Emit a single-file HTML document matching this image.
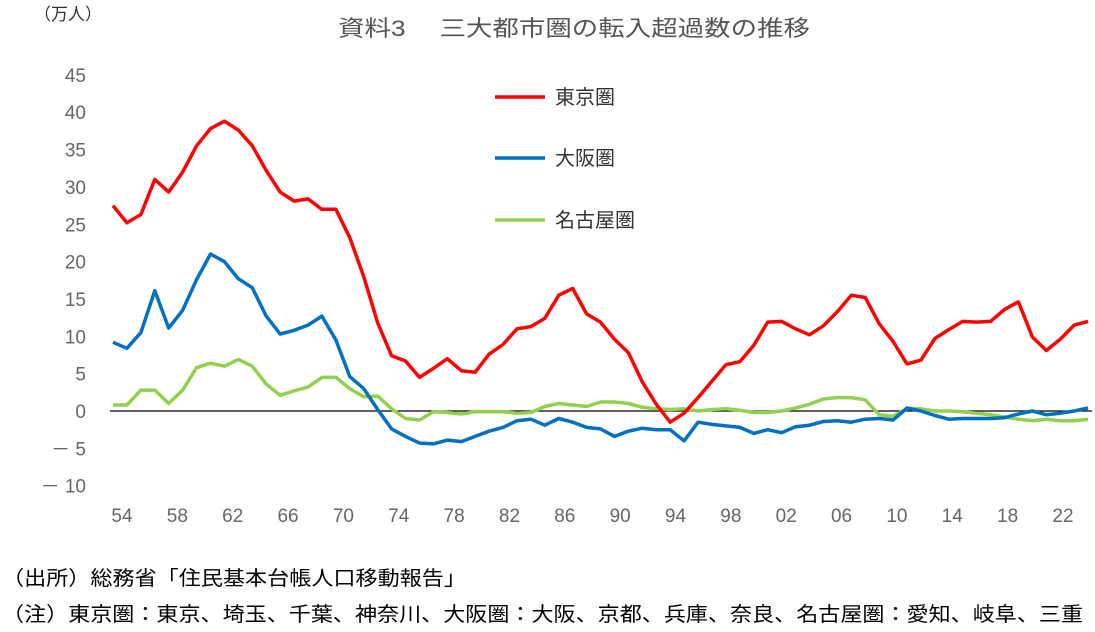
<!DOCTYPE html>
<html><head><meta charset="utf-8"><style>
body{margin:0;background:#fff;}
svg{display:block;font-family:"Liberation Sans","Noto Sans CJK JP",sans-serif;}
</style></head><body>
<svg id="s" width="1095" height="632" xmlns="http://www.w3.org/2000/svg">
<text x="34" y="20" font-size="17" fill="#333">（万人）</text>
<text x="338" y="36" font-size="22" fill="#555" textLength="472" lengthAdjust="spacingAndGlyphs">資料3　 三大都市圏の転入超過数の推移</text>
<g font-size="19" fill="#666" text-anchor="end" id="yl"></g>
<g font-size="19" fill="#666" text-anchor="middle" id="xl"></g>
<line x1="110" y1="411" x2="1092" y2="411" stroke="#000" stroke-width="1.3"/>
<g id="ln" fill="none" stroke-width="3.5" stroke-linejoin="round"></g>
<line x1="495" y1="97" x2="545" y2="97" stroke="#ff0000" stroke-width="3.5"/>
<text x="555" y="104" font-size="20" fill="#333">東京圏</text>
<line x1="495" y1="158" x2="545" y2="158" stroke="#0070c0" stroke-width="3.5"/>
<text x="555" y="165" font-size="20" fill="#333">大阪圏</text>
<line x1="495" y1="220" x2="545" y2="220" stroke="#92d050" stroke-width="3.5"/>
<text x="555" y="227" font-size="20" fill="#333">名古屋圏</text>
<text x="2" y="585" font-size="20" fill="#000" textLength="464" lengthAdjust="spacingAndGlyphs">（出所）総務省「住民基本台帳人口移動報告」</text>
<text x="2" y="621" font-size="20" fill="#000" textLength="1081" lengthAdjust="spacingAndGlyphs">（注）東京圏：東京、埼玉、千葉、神奈川、大阪圏：大阪、京都、兵庫、奈良、名古屋圏：愛知、岐阜、三重</text>
</svg>
<script>
var ns="http://www.w3.org/2000/svg";
function Y(v){return 411-v*7.47;}
function X(i){return 113+i*13.93;}
var yl=document.getElementById('yl');
for(var v=45;v>=-10;v-=5){var t=document.createElementNS(ns,'text');t.setAttribute('x',86);t.setAttribute('y',Y(v)+7);t.textContent=v<0?'－ '+(-v):v;yl.appendChild(t);}
var xl=document.getElementById('xl');
var labs=['54','58','62','66','70','74','78','82','86','90','94','98','02','06','10','14','18','22'];
for(var i=0;i<labs.length;i++){var t=document.createElementNS(ns,'text');t.setAttribute('x',122+i*55.35);t.setAttribute('y',522);t.textContent=labs[i];xl.appendChild(t);}
var red=[27.5,25.2,26.3,31,29.3,32,35.5,37.8,38.8,37.6,35.5,32.2,29.3,28.1,28.4,27,27,23.2,18,11.8,7.4,6.7,4.5,5.7,7,5.4,5.2,7.6,8.9,11,11.3,12.4,15.5,16.4,13,11.9,9.6,7.8,3.9,0.9,-1.5,-0.3,1.8,4,6.2,6.6,8.8,11.9,12,11,10.2,11.4,13.3,15.5,15.2,11.7,9.3,6.3,6.8,9.7,10.9,12,11.9,12,13.6,14.6,9.9,8.1,9.6,11.5,12];
var blue=[9.2,8.4,10.5,16.1,11.1,13.5,17.6,21,20,17.7,16.5,12.7,10.3,10.8,11.5,12.7,9.5,4.6,3,0.2,-2.4,-3.4,-4.3,-4.4,-3.9,-4.1,-3.4,-2.7,-2.2,-1.3,-1.1,-1.9,-1,-1.5,-2.2,-2.4,-3.4,-2.7,-2.3,-2.5,-2.5,-4,-1.5,-1.8,-2,-2.2,-3,-2.5,-2.9,-2.1,-1.9,-1.4,-1.3,-1.5,-1.1,-1,-1.2,0.4,0,-0.6,-1.1,-1,-1,-1,-0.9,-0.4,0,-0.5,-0.3,0,0.4];
var green=[0.8,0.8,2.8,2.8,1,2.8,5.8,6.4,6,6.9,6,3.6,2.1,2.7,3.2,4.5,4.5,3,1.9,2,0.3,-1,-1.2,-0.1,-0.2,-0.4,-0.1,-0.1,-0.1,-0.3,-0.2,0.6,1,0.8,0.6,1.2,1.2,1,0.5,0.3,0.2,0.3,0,0.2,0.3,0.1,-0.2,-0.2,0,0.4,0.9,1.6,1.8,1.8,1.5,-0.5,-0.7,0.3,0.3,0,0,-0.1,-0.3,-0.5,-0.8,-1.1,-1.3,-1.1,-1.3,-1.3,-1.1];
var ln=document.getElementById('ln');
[[green,'#92d050'],[blue,'#0070c0'],[red,'#ff0000']].forEach(function(s){
var p=s[0].map(function(v,i){return X(i).toFixed(1)+','+Y(v).toFixed(1);}).join(' ');
var e=document.createElementNS(ns,'polyline');e.setAttribute('points',p);e.setAttribute('stroke',s[1]);ln.appendChild(e);});
</script>
</body></html>
